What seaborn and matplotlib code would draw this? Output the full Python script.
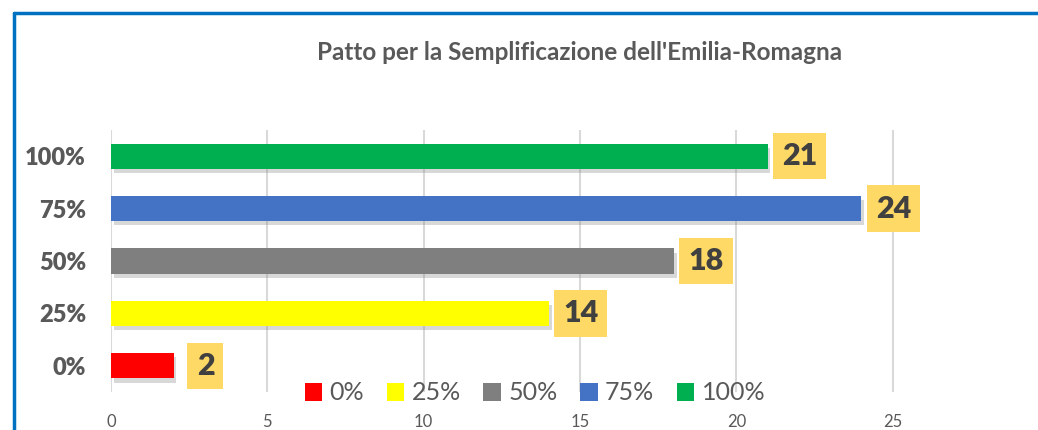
import seaborn as sns
import matplotlib.pyplot as plt
import matplotlib.patheffects as pe
from matplotlib.patches import Patch
from matplotlib.lines import Line2D

# data
categorie = ["100%", "75%", "50%", "25%", "0%"]
valori = [21, 24, 18, 14, 2]
colori = ["#00B050", "#4472C4", "#7F7F7F", "#FFFF00", "#FF0000"]
legenda = ["0%", "25%", "50%", "75%", "100%"]
titolo = "Patto per la Semplificazione dell'Emilia-Romagna"

sns.set_style("white")
plt.rcParams["font.family"] = ["Lato", "DejaVu Sans"]

fig = plt.figure(figsize=(10.38, 4.3), dpi=100)
ax = fig.add_axes([111 / 1038, 38 / 430, 938 / 1038, 262 / 430])

sns.barplot(x=valori, y=categorie, hue=categorie, order=categorie,
            palette=dict(zip(categorie, colori)), width=0.48, legend=False,
            saturation=1, linewidth=0, ax=ax, zorder=3)

for p in ax.patches:
    p.set_linewidth(0)
    p.set_path_effects([pe.SimplePatchShadow(offset=(2, -3), shadow_rgbFace="#808080", alpha=0.3),
                        pe.Normal()])

for i, v in enumerate(valori):
    ax.annotate(str(v), (v, i), xytext=(23, 0), textcoords="offset points",
                ha="center", va="center", fontsize=22, fontweight="heavy", color="#404040",
                bbox=dict(boxstyle="square,pad=0.3", fc="#FFD966", ec="none"), zorder=5)

ax.set_xlim(0, 30)
ax.set_ylim(4.5, -0.5)
ax.set_xticks([0, 5, 10, 15, 20, 25])
ax.set_yticks(range(len(categorie)))
ax.set_yticklabels(categorie)
ax.tick_params(axis="x", length=0, labelsize=12, labelcolor="#595959", pad=16)
ax.tick_params(axis="y", length=0, pad=18, labelsize=17, labelcolor="#595959")
ax.grid(axis="x", color="#D9D9D9", linewidth=1.5, zorder=0)
ax.grid(axis="y", visible=False)
sns.despine(ax=ax, left=True, bottom=True, top=True, right=True)
ax.set_xlabel("")
ax.set_ylabel("")
plt.setp(ax.get_yticklabels(), fontweight="heavy")

handles = [Patch(facecolor=c, edgecolor="none") for c in colori[::-1]]
leg = fig.legend(handles, legenda, loc="center", bbox_to_anchor=(535 / 1038, 37 / 430),
                 ncol=5, frameon=False, fontsize=18, handlelength=0.7, handleheight=0.7,
                 handletextpad=0.3, columnspacing=0.9)
for t in leg.get_texts():
    t.set_color("#595959")

fig.text(580 / 1038, 1 - 52 / 430, titolo, ha="center", va="center",
         fontsize=17.5, fontweight="bold", color="#595959")

# outer frame (cropped chart border)
fig.add_artist(Line2D([14 / 1038, 14 / 1038], [0, 1 - 13 / 430], transform=fig.transFigure,
                      color="#0070C0", linewidth=2.5))
fig.add_artist(Line2D([14 / 1038, 1], [1 - 13 / 430, 1 - 13 / 430], transform=fig.transFigure,
                      color="#0070C0", linewidth=2.5))

fig.savefig("out.png", dpi=100)
